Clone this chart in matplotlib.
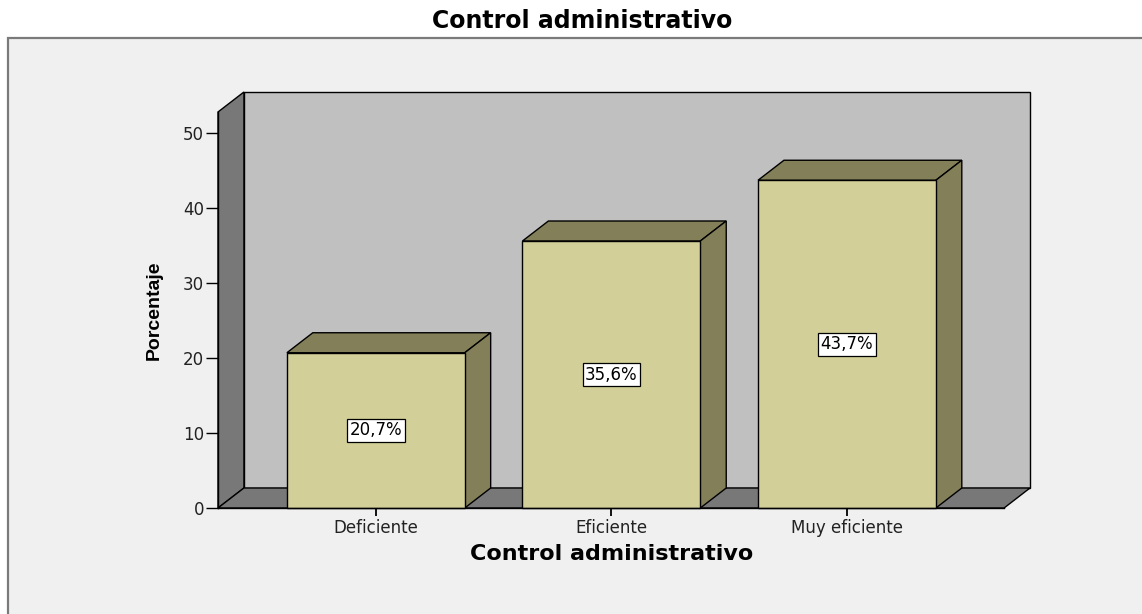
import matplotlib.pyplot as plt
from matplotlib.patches import Polygon, Rectangle

categorias = ["Deficiente", "Eficiente", "Muy eficiente"]
porcentajes = [20.7, 35.6, 43.7]
etiquetas = ["20,7%", "35,6%", "43,7%"]
marcas_y = [0, 10, 20, 30, 40, 50]

FRENTE = "#d3cf98"
LATERAL = "#838059"
PARED_FONDO = "#c0c0c0"
PARED_LADO = "#787878"
FONDO = "#f0f0f0"

W, H = 1142, 614


def draw_chart():
    fig = plt.figure(figsize=(W / 100, H / 100), dpi=100, facecolor="white")

    # recuadro gris del grafico
    fig.patches.append(Rectangle((8 / W, -0.05), 1.0, (H - 38) / H + 0.05,
                                 transform=fig.transFigure, facecolor=FONDO,
                                 edgecolor="#7a7a7a", lw=1.6, zorder=-10))

    ax = fig.add_axes([218 / W, 106 / H, 812 / W, 416 / H])
    ax.patch.set_visible(False)

    x0, x1 = -0.67, 2.667          # frente del piso
    top = 52.8                      # alto de las paredes
    dx, dy = 0.11, 2.667            # profundidad
    ancho = 0.755

    ax.set_xlim(x0, x1 + dx)
    ax.set_ylim(0, top + dy)

    kw = dict(edgecolor="black", lw=1.0, clip_on=False, joinstyle="miter")
    ax.add_patch(Rectangle((x0 + dx, dy), x1 - x0, top, facecolor=PARED_FONDO, **kw))
    ax.add_patch(Polygon([(x0, 0), (x0 + dx, dy), (x0 + dx, top + dy), (x0, top)],
                         facecolor=PARED_LADO, **kw))
    ax.add_patch(Polygon([(x0, 0), (x1, 0), (x1 + dx, dy), (x0 + dx, dy)],
                         facecolor=PARED_LADO, **kw))

    for i, (v, txt) in enumerate(zip(porcentajes, etiquetas)):
        a, b = i - ancho / 2, i + ancho / 2
        ax.add_patch(Polygon([(a, v), (b, v), (b + dx, v + dy), (a + dx, v + dy)],
                             facecolor=LATERAL, **kw))
        ax.add_patch(Polygon([(b, 0), (b + dx, dy), (b + dx, v + dy), (b, v)],
                             facecolor=LATERAL, **kw))
        ax.add_patch(Rectangle((a, 0), ancho, v, facecolor=FRENTE, **kw))
        ax.text(i, v / 2, txt, ha="center", va="center", fontsize=12,
                family="DejaVu Sans",
                bbox=dict(boxstyle="square,pad=0.15", facecolor="white",
                          edgecolor="black", lw=0.9))

    for s in ["top", "right"]:
        ax.spines[s].set_visible(False)
    ax.spines["left"].set_bounds(0, top)
    ax.spines["bottom"].set_bounds(x0, x1)
    ax.spines["left"].set_linewidth(1.0)
    ax.spines["bottom"].set_linewidth(1.0)

    ax.set_yticks(marcas_y)
    ax.set_xticks(range(len(categorias)))
    ax.set_xticklabels(categorias)
    ax.tick_params(axis="y", length=9, width=1.0, pad=1, labelsize=12)
    ax.tick_params(axis="x", length=6, width=1.3, pad=2, labelsize=12)
    for lab in ax.get_xticklabels() + ax.get_yticklabels():
        lab.set_family("DejaVu Sans")
        lab.set_color("#222222")

    ax.set_xlabel("Control administrativo", fontsize=16, fontweight="bold",
                  family="DejaVu Sans")
    ax.xaxis.set_label_coords(0.485, -0.087)
    ax.set_ylabel("Porcentaje", fontsize=14, fontweight="bold",
                  family=["Liberation Sans Narrow", "Liberation Sans"])
    ax.yaxis.set_label_coords(-0.068, 0.476)

    fig.text(582 / W, 1 - 21 / H, "Control administrativo", ha="center", va="center",
             fontsize=17, fontweight="bold", family="DejaVu Sans")

    fig.savefig("out.png", dpi=100, facecolor="white")


if __name__ == '__main__':
    draw_chart()
